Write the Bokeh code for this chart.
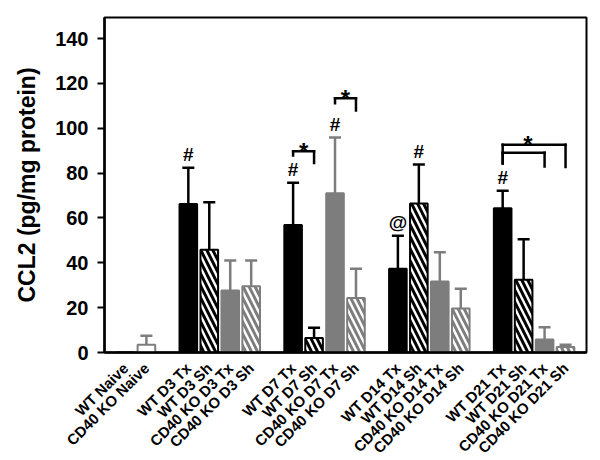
from bokeh.plotting import figure
from bokeh.models import FactorRange, FixedTicker, Whisker, ColumnDataSource, TeeHead, Range1d
from bokeh.core.properties import value
from bokeh.embed import file_html
from bokeh.resources import INLINE

# ---------------- data ----------------
groups = ["Naive", "D3", "D7", "D14", "D21"]
group_labels = [
    ["WT Naive", "CD40 KO Naive"],
    ["WT D3 Tx", "WT D3 Sh", "CD40 KO D3 Tx", "CD40 KO D3 Sh"],
    ["WT D7 Tx", "WT D7 Sh", "CD40 KO D7 Tx", "CD40 KO D7 Sh"],
    ["WT D14 Tx", "WT D14 Sh", "CD40 KO D14 Tx", "CD40 KO D14 Sh"],
    ["WT D21 Tx", "WT D21 Sh", "CD40 KO D21 Tx", "CD40 KO D21 Sh"],
]
means = [0.0, 3.5,
         66.2, 45.8, 27.6, 29.5,
         56.9, 6.5, 71.0, 24.3,
         37.3, 66.5, 31.7, 19.6,
         64.3, 32.4, 5.8, 2.4]
errors = [0.0, 4.0,
          16.2, 21.2, 13.4, 11.5,
          18.8, 4.5, 24.9, 13.0,
          14.8, 17.3, 13.0, 8.8,
          7.8, 18.1, 5.5, 1.1]
kinds = ["WT Tx", "KO Naive",
         "WT Tx", "WT Sh", "KO Tx", "KO Sh",
         "WT Tx", "WT Sh", "KO Tx", "KO Sh",
         "WT Tx", "WT Sh", "KO Tx", "KO Sh",
         "WT Tx", "WT Sh", "KO Tx", "KO Sh"]
y_ticks = [0, 20, 40, 60, 80, 100, 120, 140]

# significance marks placed over the error caps
mark_on = [("D3", "WT D3 Tx"), ("D7", "WT D7 Tx"), ("D7", "CD40 KO D7 Tx"),
           ("D14", "WT D14 Tx"), ("D14", "WT D14 Sh"), ("D21", "WT D21 Tx")]
mark_text = ["#", "#", "#", "@", "#", "#"]

# comparison brackets
br_from = [("D7", "WT D7 Tx"), ("D7", "CD40 KO D7 Tx"), ("D21", "WT D21 Tx"), ("D21", "WT D21 Tx")]
br_to = [("D7", "WT D7 Sh"), ("D7", "CD40 KO D7 Sh"), ("D21", "CD40 KO D21 Tx"), ("D21", "CD40 KO D21 Sh")]
br_top = [89.7, 113.4, 89.1, 92.6]
br_left = [87.9, 111.2, 84.3, 84.3]
br_right = [84.5, 107.9, 83.0, 82.7]
star_x = [("D7", "WT D7 Tx", 0.5), ("D7", "CD40 KO D7 Tx", 0.5), ("D21", "WT D21 Sh", 0.2)]
star_y = [89.7, 113.4, 92.6]

# ---------------- figure ----------------
factors = [(g, lab) for g, labs in zip(groups, group_labels) for lab in labs]
caps = [m + e for m, e in zip(means, errors)]

BLACK = "#000000"
GRAY = "#7d7d7d"
FONT = "Liberation Sans"

x_range = FactorRange(*factors, factor_padding=0, group_padding=1,
                      range_padding=0.5, range_padding_units="absolute")
p = figure(x_range=x_range, y_range=Range1d(0, 149.4),
           frame_width=482, frame_height=335,
           min_border_left=104, min_border_right=6, min_border_top=17, min_border_bottom=100,
           output_backend="svg", toolbar_location=None)
p.background_fill_color = "white"
p.border_fill_color = "white"
p.outline_line_color = BLACK
p.outline_line_width = 2
p.xgrid.grid_line_color = None
p.ygrid.grid_line_color = None

styles = {
    "WT Tx": dict(fill_color=BLACK, line_color=BLACK),
    "WT Sh": dict(fill_color="white", line_color=BLACK, hatch_pattern="\\", hatch_color=BLACK),
    "KO Tx": dict(fill_color=GRAY, line_color=GRAY),
    "KO Sh": dict(fill_color="white", line_color=GRAY, hatch_pattern="\\", hatch_color=GRAY),
    "KO Naive": dict(fill_color="white", line_color=GRAY),
}
err_color = {"WT Tx": BLACK, "WT Sh": BLACK, "KO Tx": GRAY, "KO Sh": GRAY, "KO Naive": GRAY}

for kind, st in styles.items():
    idx = [i for i, k in enumerate(kinds) if k == kind]
    src = ColumnDataSource(dict(x=[factors[i] for i in idx],
                                top=[means[i] for i in idx]))
    p.vbar(x="x", top="top", bottom=0, width=0.84, source=src, line_width=2,
           hatch_weight=3, hatch_scale=12, **st)
    eidx = [i for i in idx if errors[i] > 0]
    esrc = ColumnDataSource(dict(x=[factors[i] for i in eidx],
                                 top=[means[i] for i in eidx],
                                 cap=[caps[i] for i in eidx]))
    c = err_color[kind]
    w = Whisker(source=esrc, base="x", lower="top", upper="cap",
                line_color=c, line_width=2.5,
                upper_head=TeeHead(size=12, line_color=c, line_width=2.5),
                lower_head=None)
    p.add_layout(w)

# marks (# and @)
lookup = {f: i for i, f in enumerate(factors)}
msrc = ColumnDataSource(dict(x=list(mark_on), y=[caps[lookup[f]] for f in mark_on], t=mark_text))
p.text(x="x", y="y", text="t", source=msrc, text_align="center", text_baseline="middle",
       y_offset=-13, text_font=value(FONT), text_font_size="19px", text_font_style="bold",
       text_color=BLACK)

# brackets
p.segment(x0=br_from, y0=br_top, x1=br_to, y1=br_top, line_color=BLACK, line_width=2.5, line_cap="square")
p.segment(x0=br_from, y0=br_left, x1=br_from, y1=br_top, line_color=BLACK, line_width=2.5, line_cap="square")
p.segment(x0=br_to, y0=br_right, x1=br_to, y1=br_top, line_color=BLACK, line_width=2.5, line_cap="square")
ssrc = ColumnDataSource(dict(x=star_x, y=star_y, t=["*"] * len(star_x)))
p.text(x="x", y="y", text="t", source=ssrc, text_align="center", text_baseline="alphabetic",
       y_offset=0, text_font=value(FONT), text_font_size="24px", text_font_style="bold",
       text_color=BLACK)

# axes
ya = p.yaxis[0]
ya.ticker = FixedTicker(ticks=y_ticks)
ya.axis_label = "CCL2 (pg/mg protein)"
ya.axis_label_text_font = FONT
ya.axis_label_text_font_size = "23px"
ya.axis_label_text_font_style = "bold"
ya.axis_label_text_color = BLACK
ya.axis_label_standoff = 12
ya.major_label_text_font = FONT
ya.major_label_text_font_size = "20px"
ya.major_label_text_font_style = "bold"
ya.major_label_text_color = BLACK
ya.major_label_standoff = 9
ya.major_tick_out = 7
ya.major_tick_in = 0
ya.major_tick_line_width = 2
ya.minor_tick_line_color = None
ya.axis_line_width = 2.5
ya.axis_line_color = BLACK

xa = p.xaxis[0]
xa.major_label_orientation = 0.785
xa.major_label_text_font = FONT
xa.major_label_text_font_size = "15px"
xa.major_label_text_font_style = "bold"
xa.major_label_text_color = BLACK
xa.major_label_standoff = 7
xa.major_tick_line_color = None
xa.minor_tick_line_color = None
xa.axis_line_width = 2.5
xa.axis_line_color = BLACK
xa.group_text_font_size = "0px"
xa.group_text_color = None
xa.separator_line_color = None

open("out.html", "w").write(file_html(p, INLINE))
